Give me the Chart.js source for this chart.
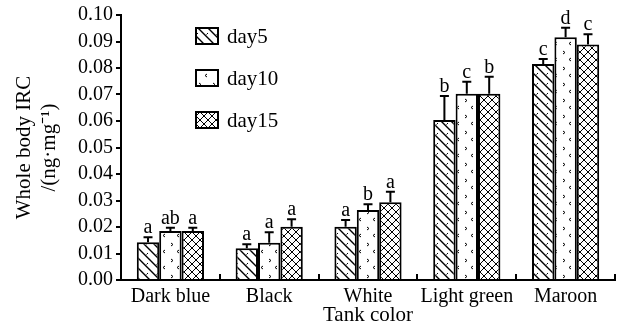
<!DOCTYPE html>
<html>
<head>
<meta charset="utf-8">
<script src="https://cdn.jsdelivr.net/npm/chart.js@4"></script>
<style>
  html, body { margin: 0; padding: 0; background: #fff; }
  canvas { display: block; }
</style>
</head>
<body>
<canvas id="c" width="619" height="334"></canvas>
<script>
// Tank colours and whole-body IRC (ng·mg⁻¹) per sampling day
const categories = ['Dark blue', 'Black', 'White', 'Light green', 'Maroon'];
const seriesNames = ['day5', 'day10', 'day15'];

const day5  = [0.0142, 0.0120, 0.0201, 0.0604, 0.0815];
const day10 = [0.0185, 0.0141, 0.0264, 0.0703, 0.0916];
const day15 = [0.0185, 0.0201, 0.0293, 0.0703, 0.0889];

// standard errors (upper whiskers)
const day5Err  = [0.0019, 0.0015, 0.0025, 0.0090, 0.0019];
const day10Err = [0.0012, 0.0039, 0.0022, 0.0045, 0.0036];
const day15Err = [0.0012, 0.0028, 0.0040, 0.0064, 0.0038];

// significance letters
const day5Sig  = ['a', 'a', 'a', 'b', 'c'];
const day10Sig = ['ab', 'a', 'b', 'c', 'd'];
const day15Sig = ['a', 'a', 'a', 'b', 'c'];

const yTicks = [0, 0.01, 0.02, 0.03, 0.04, 0.05, 0.06, 0.07, 0.08, 0.09, 0.10];

const SERIF = '"Liberation Serif", "Times New Roman", serif';
const LW = 2;

// ---- hatch fills ----
function makePattern(kind) {
  const c = document.createElement('canvas');
  const ctx = c.getContext('2d');
  ctx.strokeStyle = '#000';
  ctx.fillStyle = '#000';
  if (kind === 'diag') {
    c.width = 10; c.height = 10;
    ctx.fillStyle = '#fff'; ctx.fillRect(0, 0, 10, 10);
    ctx.lineWidth = 1.4;
    ctx.beginPath();
    ctx.moveTo(-1, -1); ctx.lineTo(11, 11);
    ctx.moveTo(-1, 9); ctx.lineTo(1, 11);
    ctx.moveTo(9, -1); ctx.lineTo(11, 1);
    ctx.stroke();
    ctx.lineWidth = 1;
    ctx.beginPath();
    ctx.moveTo(8, 3); ctx.lineTo(6.5, 4.5);
    ctx.stroke();
  } else if (kind === 'dots') {
    c.width = 14; c.height = 16;
    ctx.fillStyle = '#fff'; ctx.fillRect(0, 0, 14, 16);
    ctx.lineWidth = 1;
    ctx.beginPath();
    // ">" mark
    ctx.moveTo(3, 3); ctx.lineTo(5, 4.5); ctx.lineTo(3, 6);
    // "<" mark
    ctx.moveTo(11, 10); ctx.lineTo(9, 11.5); ctx.lineTo(11, 13);
    ctx.stroke();
  } else {
    c.width = 8; c.height = 8;
    ctx.fillStyle = '#fff'; ctx.fillRect(0, 0, 8, 8);
    ctx.lineWidth = 1;
    ctx.beginPath();
    ctx.moveTo(-1, -1); ctx.lineTo(9, 9);
    ctx.moveTo(-1, 9); ctx.lineTo(9, -1);
    ctx.stroke();
  }
  return c.getContext('2d').createPattern(c, 'repeat');
}

const fills = [makePattern('diag'), makePattern('dots'), makePattern('cross')];
const values = [day5, day10, day15];
const errs = [day5Err, day10Err, day15Err];
const sigs = [day5Sig, day10Sig, day15Sig];

// whiskers and letters above every bar
const errorBarPlugin = {
  id: 'errorBars',
  afterDatasetsDraw(chart) {
    const ctx = chart.ctx;
    const y = chart.scales.y;
    ctx.save();
    ctx.strokeStyle = '#000';
    ctx.fillStyle = '#000';
    ctx.lineWidth = LW;
    ctx.font = '20px ' + SERIF;
    ctx.textAlign = 'center';
    ctx.textBaseline = 'alphabetic';
    chart.data.datasets.forEach((ds, di) => {
      const meta = chart.getDatasetMeta(di);
      meta.data.forEach((bar, i) => {
        const v = ds.data[i];
        const top = y.getPixelForValue(v + errs[di][i]);
        const base = y.getPixelForValue(v);
        const x = bar.x;
        ctx.beginPath();
        ctx.moveTo(x, base);
        ctx.lineTo(x, top);
        ctx.moveTo(x - 4.5, top);
        ctx.lineTo(x + 4.5, top);
        ctx.stroke();
        ctx.fillText(sigs[di][i], x, top - 4);
      });
    });
    ctx.restore();
  }
};

// short upward ticks on the category axis between groups
const xTickPlugin = {
  id: 'xUpTicks',
  afterDraw(chart) {
    const ctx = chart.ctx;
    const x = chart.scales.x;
    const bottom = chart.chartArea.bottom;
    ctx.save();
    ctx.strokeStyle = '#000';
    ctx.lineWidth = LW;
    ctx.beginPath();
    for (let i = 0; i < categories.length; i++) {
      const px = Math.round(x.getPixelForValue(i + 0.5));
      ctx.moveTo(px, bottom);
      ctx.lineTo(px, bottom - 6);
    }
    ctx.stroke();
    ctx.restore();
  }
};

// legend inside the plot area
const legendPlugin = {
  id: 'innerLegend',
  afterDraw(chart) {
    const ctx = chart.ctx;
    ctx.save();
    ctx.font = '21px ' + SERIF;
    ctx.textBaseline = 'middle';
    ctx.textAlign = 'left';
    const bx = 196, bw = 22, bh = 16;
    const rows = [36, 78, 120];
    seriesNames.forEach((name, i) => {
      const cy = rows[i];
      ctx.fillStyle = fills[i];
      ctx.fillRect(bx, cy - bh / 2, bw, bh);
      ctx.strokeStyle = '#000';
      ctx.lineWidth = LW;
      ctx.strokeRect(bx, cy - bh / 2, bw, bh);
      ctx.fillStyle = '#000';
      ctx.fillText(name, bx + 31, cy + 1);
    });
    ctx.restore();
  }
};

new Chart(document.getElementById('c'), {
  type: 'bar',
  data: {
    labels: categories,
    datasets: seriesNames.map((name, i) => ({
      label: name,
      data: values[i],
      backgroundColor: fills[i],
      borderColor: '#000',
      borderWidth: LW,
      borderSkipped: 'bottom',
      barPercentage: 1.0,
      categoryPercentage: 0.68
    }))
  },
  options: {
    responsive: false,
    animation: false,
    devicePixelRatio: 1,
    layout: { padding: { top: 15, right: 4, left: 0, bottom: 0 } },
    plugins: {
      legend: { display: false },
      tooltip: { enabled: false }
    },
    scales: {
      x: {
        grid: { display: false, drawTicks: false },
        border: { display: true, color: '#000', width: LW },
        ticks: {
          color: '#000',
          font: { family: SERIF, size: 20 },
          padding: 5,
          autoSkip: false,
          maxRotation: 0
        },
        title: {
          display: true,
          text: 'Tank color',
          color: '#000',
          font: { family: SERIF, size: 21, lineHeight: 1.15 },
          padding: { top: 0, bottom: 6 }
        },
        afterFit(scale) { scale.height = 54; }
      },
      y: {
        min: 0,
        max: 0.10,
        afterBuildTicks(scale) {
          scale.ticks = yTicks.map(v => ({ value: v }));
        },
        grid: {
          drawOnChartArea: false,
          drawTicks: true,
          tickLength: 5,
          color: '#000',
          lineWidth: LW
        },
        border: { display: true, color: '#000', width: LW },
        ticks: {
          color: '#000',
          font: { family: SERIF, size: 20 },
          padding: 3,
          autoSkip: false,
          callback: v => Number(v).toFixed(2)
        },
        title: {
          display: true,
          text: ['Whole body IRC', '/(ng\u00b7mg\u207b\u00b9)'],
          color: '#000',
          font: { family: SERIF, size: 21, lineHeight: 1.2 },
          padding: { top: 12, bottom: 0 }
        },
        afterFit(scale) { scale.width = 121; }
      }
    }
  },
  plugins: [errorBarPlugin, xTickPlugin, legendPlugin]
});
</script>
</body>
</html>
